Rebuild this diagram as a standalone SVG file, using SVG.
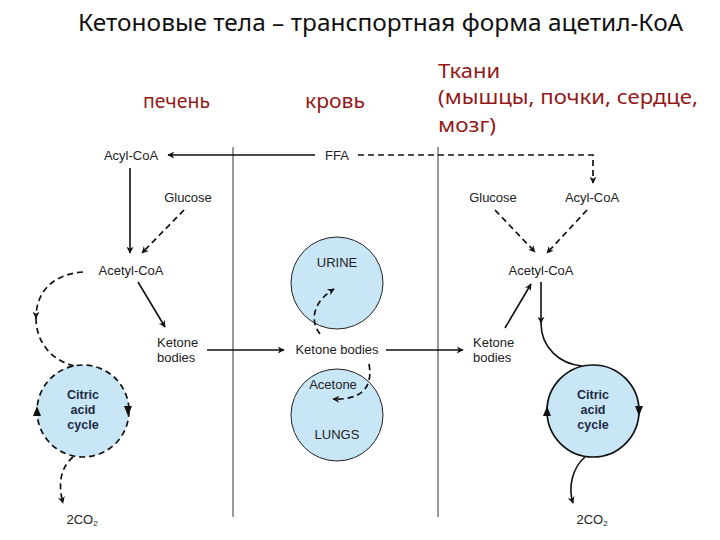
<svg xmlns="http://www.w3.org/2000/svg" width="720" height="540" viewBox="0 0 720 540">
<defs>
<marker id="ah" viewBox="0 0 10 10" refX="9" refY="5" markerWidth="9" markerHeight="7" markerUnits="userSpaceOnUse" orient="auto">
<path d="M0,0 L10,5 L0,10 L3,5 Z" fill="#111"/>
</marker>
<style>
.t{font-family:"Liberation Sans",Arial,sans-serif;font-size:13px;fill:#222}
.c{font-family:"Liberation Sans",Arial,sans-serif;font-size:12.5px;font-weight:bold;fill:#1e2a44;text-anchor:middle}
.red{font-family:"Noto Sans","Liberation Sans",sans-serif;font-size:20px;fill:#931818}
.s{fill:none;stroke:#111;stroke-width:1.6}
.d{fill:none;stroke:#111;stroke-width:1.7;stroke-dasharray:6 4}
.div{stroke:#555;stroke-width:1.2}
.bl{fill:#c9e6f7;stroke:#222;stroke-width:1}
</style>
</defs>
<rect width="720" height="540" fill="#fff"/>
<text x="78" y="31" font-family="'Noto Sans','Liberation Sans',sans-serif" font-size="24" fill="#111" textLength="605" lengthAdjust="spacingAndGlyphs">Кетоновые тела – транспортная форма ацетил-КоА</text>
<g id="labels">
<text class="red" x="143" y="108" textLength="67" lengthAdjust="spacingAndGlyphs">печень</text>
<text class="red" x="305" y="108" textLength="60" lengthAdjust="spacingAndGlyphs">кровь</text>
<text class="red" x="438" y="78" textLength="62" lengthAdjust="spacingAndGlyphs">Ткани</text>
<text class="red" x="438" y="104" textLength="260" lengthAdjust="spacingAndGlyphs">(мышцы, почки, сердце,</text>
<text class="red" x="438" y="132" textLength="58" lengthAdjust="spacingAndGlyphs">мозг)</text>
</g>
<g id="dividers">
<line class="div" x1="233" y1="147" x2="233" y2="517"/>
<line class="div" x1="438" y1="147" x2="438" y2="517"/>
</g>
<g id="circles">
<circle id="urine" class="bl" cx="337" cy="283" r="46"/>
<circle id="lungs" class="bl" cx="337" cy="415" r="46"/>
<circle id="tca-left" cx="83" cy="411" r="46" fill="#c9e6f7" stroke="#111" stroke-width="1.7" stroke-dasharray="6 4"/>
<circle id="tca-right" cx="593" cy="411" r="46" fill="#c9e6f7" stroke="#111" stroke-width="1.7"/>
</g>
<g id="connectors">
<line class="s" x1="315" y1="155" x2="168" y2="155" marker-end="url(#ah)"/>
<polyline class="d" points="358,155 593,155 593,183" marker-end="url(#ah)"/>
<line class="s" x1="130" y1="168" x2="130" y2="253" marker-end="url(#ah)"/>
<line class="d" x1="184" y1="210" x2="142" y2="253" marker-end="url(#ah)"/>
<line class="s" x1="138" y1="282" x2="165" y2="327" marker-end="url(#ah)"/>
<path class="d" d="M83 272 C55 274 36 290 36 318" marker-end="url(#ah)"/>
<path class="d" d="M36 318 C36 345 55 362 75 366"/>
<path class="d" d="M73 457 C60 468 58 485 63 503" marker-end="url(#ah)"/>
<line class="s" x1="207" y1="350" x2="284" y2="350" marker-end="url(#ah)"/>
<line class="s" x1="386" y1="350" x2="463" y2="350" marker-end="url(#ah)"/>
<path class="d" d="M320 334 C310 322 312 302 334 289" marker-end="url(#ah)"/>
<path class="d" d="M369 364 C374 392 356 400 333 399" marker-end="url(#ah)"/>
<line class="d" x1="495" y1="210" x2="535" y2="252" marker-end="url(#ah)"/>
<line class="d" x1="587" y1="210" x2="547" y2="253" marker-end="url(#ah)"/>
<line class="s" x1="505" y1="328" x2="531" y2="284" marker-end="url(#ah)"/>
<line class="s" x1="541" y1="282" x2="541" y2="323" marker-end="url(#ah)"/>
<path class="s" d="M541 323 C541 348 560 364 582 366"/>
<path class="s" d="M585 457 C572 468 568 488 573 503" marker-end="url(#ah)"/>
<path d="M124 406 L128 416 L132 406 Z" fill="#111"/>
<path d="M33 416 L37 406 L41 416 Z" fill="#111"/>
<path d="M635 406 L639 416 L643 406 Z" fill="#111"/>
<path d="M543 416 L547 406 L551 416 Z" fill="#111"/>
</g>
<g id="n-acyl-left"><text class="t" x="131" y="160" text-anchor="middle">Acyl-CoA</text></g>
<g id="n-ffa"><text class="t" x="337" y="160" text-anchor="middle">FFA</text></g>
<g id="n-glucose-left"><text class="t" x="188" y="202" text-anchor="middle">Glucose</text></g>
<g id="n-acetyl-left"><text class="t" x="131" y="275" text-anchor="middle">Acetyl-CoA</text></g>
<g id="n-ketone-left"><text class="t" x="157" y="347">Ketone</text><text class="t" x="157" y="362">bodies</text></g>
<g id="n-tca-left"><text class="c" x="83" y="399">Citric</text><text class="c" x="83" y="414">acid</text><text class="c" x="83" y="429">cycle</text></g>
<g id="n-co2-left"><text class="t" x="82" y="524" text-anchor="middle">2CO<tspan font-size="8" dy="2">2</tspan></text></g>
<g id="n-urine"><text class="t" x="337" y="267" text-anchor="middle">URINE</text></g>
<g id="n-ketone-mid"><text class="t" x="337" y="354" text-anchor="middle">Ketone bodies</text></g>
<g id="n-acetone"><text class="t" x="333" y="389" text-anchor="middle">Acetone</text></g>
<g id="n-lungs"><text class="t" x="337" y="439" text-anchor="middle">LUNGS</text></g>
<g id="n-glucose-right"><text class="t" x="493" y="202" text-anchor="middle">Glucose</text></g>
<g id="n-acyl-right"><text class="t" x="592" y="202" text-anchor="middle">Acyl-CoA</text></g>
<g id="n-acetyl-right"><text class="t" x="541" y="275" text-anchor="middle">Acetyl-CoA</text></g>
<g id="n-ketone-right"><text class="t" x="473" y="347">Ketone</text><text class="t" x="473" y="362">bodies</text></g>
<g id="n-tca-right"><text class="c" x="593" y="399">Citric</text><text class="c" x="593" y="414">acid</text><text class="c" x="593" y="429">cycle</text></g>
<g id="n-co2-right"><text class="t" x="592" y="524" text-anchor="middle">2CO<tspan font-size="8" dy="2">2</tspan></text></g>
</svg>
